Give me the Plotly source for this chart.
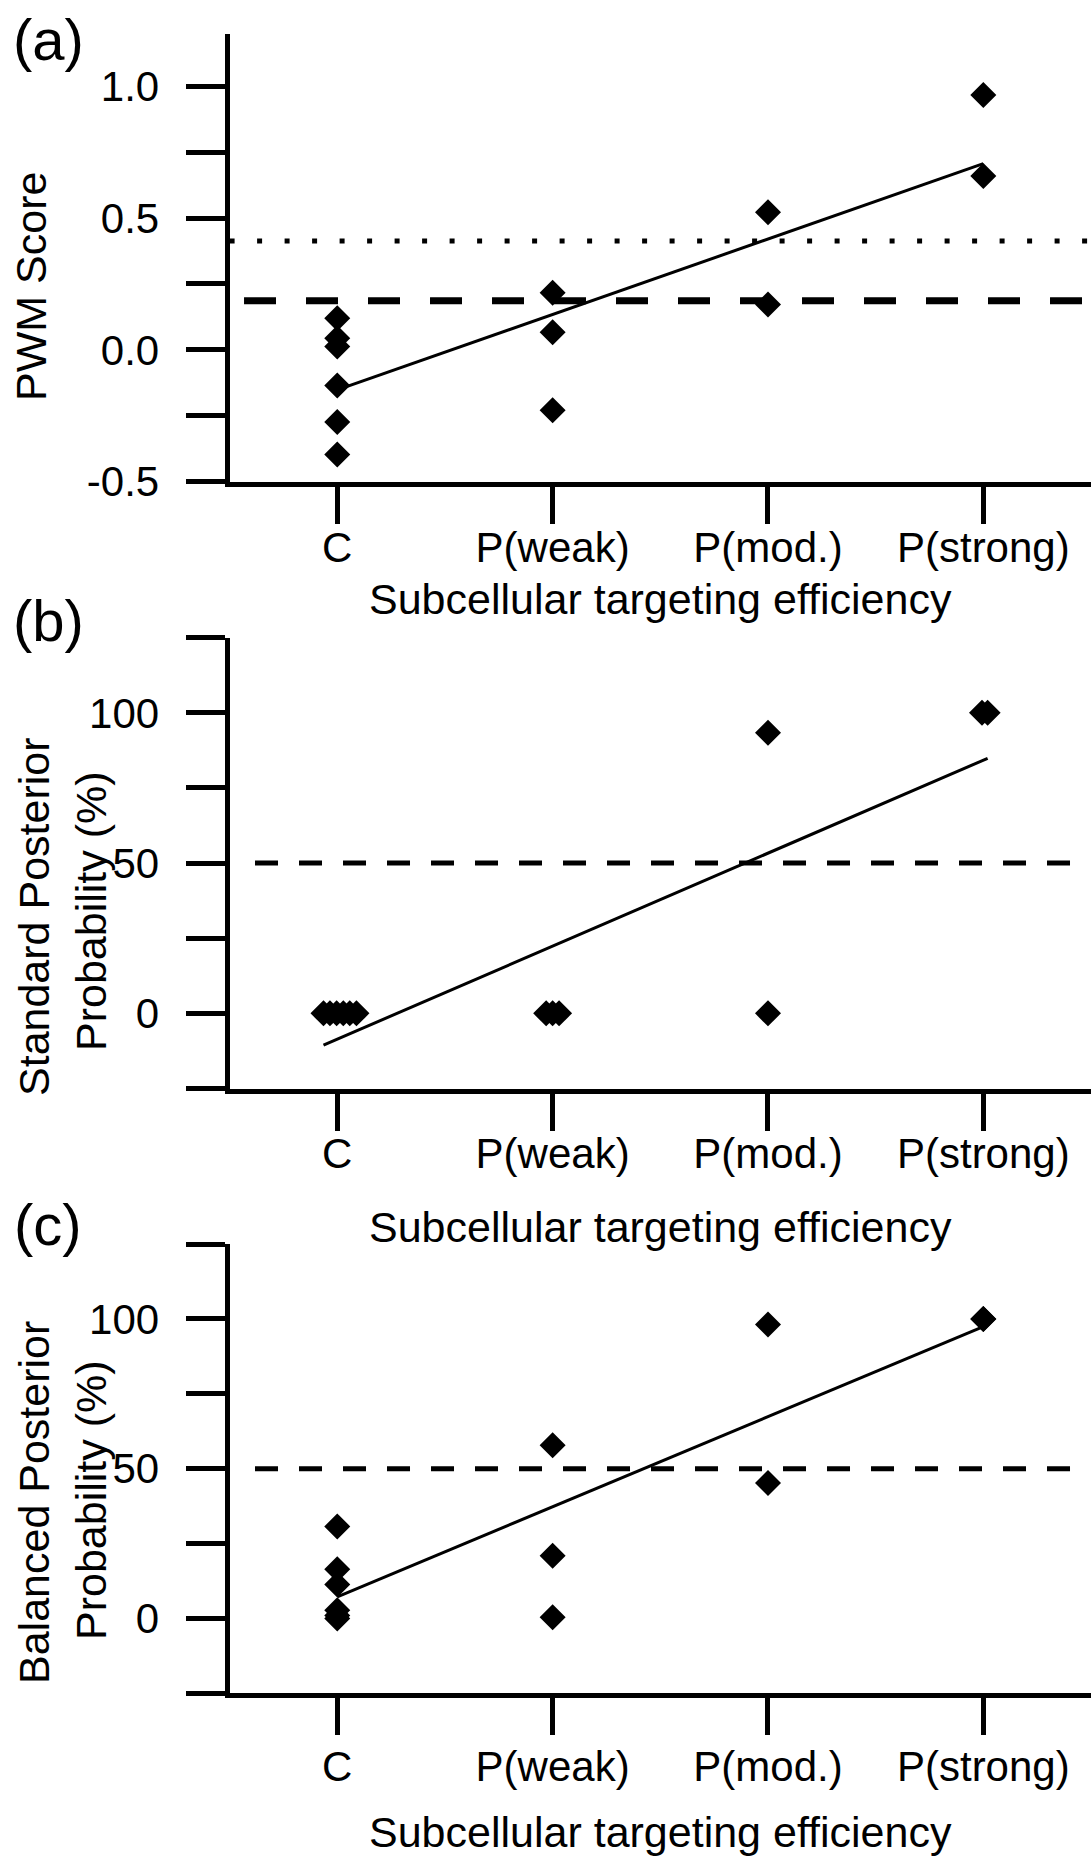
import numpy as np
import plotly.graph_objects as go

W, H = 1091, 1859

# ---------------- data ----------------
categories = ["C", "P(weak)", "P(mod.)", "P(strong)"]

pwm_C = [0.12, 0.044, 0.0125, -0.135, -0.274, -0.397]
pwm_weak = [0.217, 0.067, -0.229]
pwm_mod = [0.522, 0.172]
pwm_strong = [0.967, 0.66]
pwm_dotted_threshold = 0.413
pwm_dashed_threshold = 0.186

std_C = [0, 0, 0, 0, 0, 0]
std_weak = [0, 0, 0]
std_mod = [93.4, 0]
std_strong = [100, 100]
std_threshold = 50

bal_C = [30.7, 16.4, 11.3, 2.7, 1.0, 0.0]
bal_weak = [57.8, 20.9, 0.4]
bal_mod = [98.1, 45.2]
bal_strong = [100, 100]
bal_threshold = 50

# horizontal spread used by the original software for coinciding values (panel b)
spread_b = {
    0: [-0.064, -0.034, -0.003, 0.028, 0.058, 0.089],
    1: [-0.03, 0.0, 0.03],
    2: [0.0, 0.0],
    3: [-0.006, 0.02],
}

FONT = "Liberation Sans, Arial, sans-serif"
BLACK = "#000000"


def px_y(p):
    """pixel from top -> paper fraction"""
    return 1 - p / H


def px_x(p):
    return p / W


fig = go.Figure()

panels = [
    dict(groups=[pwm_C, pwm_weak, pwm_mod, pwm_strong], spread=None,
         top=33.6, bottom=481.6, yrange=[-0.5, 1.2],
         tickvals=[-0.5, -0.25, 0.0, 0.25, 0.5, 0.75, 1.0],
         ticktext=["-0.5", "", "0.0", "", "0.5", "", "1.0"],
         xstand=-12),
    dict(groups=[std_C, std_weak, std_mod, std_strong], spread=spread_b,
         top=637.7, bottom=1088.5, yrange=[-25, 125],
         tickvals=[-25, 0, 25, 50, 75, 100, 125],
         ticktext=["", "0", "", "50", "", "100", ""],
         xstand=-13),
    dict(groups=[bal_C, bal_weak, bal_mod, bal_strong], spread=None,
         top=1244, bottom=1693.3, yrange=[-25, 125],
         tickvals=[-25, 0, 25, 50, 75, 100, 125],
         ticktext=["", "0", "", "50", "", "100", ""],
         xstand=-5),
]

XMIN, XMAX = -0.5, 3.5
x_left_px = 229.6

for i, p in enumerate(panels):
    n = i + 1
    xa = "x" if n == 1 else f"x{n}"
    ya = "y" if n == 1 else f"y{n}"

    xs, ys = [], []
    for ci, vals in enumerate(p["groups"]):
        offs = p["spread"][ci] if p["spread"] else [0.0] * len(vals)
        for v, o in zip(vals, offs):
            xs.append(ci + o)
            ys.append(v)
    xs = np.array(xs)
    ys = np.array(ys)

    # threshold lines
    if n == 1:
        fig.add_trace(go.Scatter(x=[XMIN, XMAX], y=[pwm_dotted_threshold] * 2,
                                 mode="lines", xaxis=xa, yaxis=ya,
                                 line=dict(color=BLACK, width=5, dash="5px,22.5px"),
                                 showlegend=False, hoverinfo="skip"))
        fig.add_trace(go.Scatter(x=[XMIN + 0.067, XMAX], y=[pwm_dashed_threshold] * 2,
                                 mode="lines", xaxis=xa, yaxis=ya,
                                 line=dict(color=BLACK, width=7, dash="32px,30px"),
                                 showlegend=False, hoverinfo="skip"))
    else:
        thr = std_threshold if n == 2 else bal_threshold
        fig.add_trace(go.Scatter(x=[XMIN + 0.118, XMAX], y=[thr] * 2,
                                 mode="lines", xaxis=xa, yaxis=ya,
                                 line=dict(color=BLACK, width=5, dash="23px,21px"),
                                 showlegend=False, hoverinfo="skip"))

    # linear regression line
    slope, intercept = np.polyfit(xs, ys, 1)
    lx = np.array([xs.min(), xs.max()])
    fig.add_trace(go.Scatter(x=lx, y=slope * lx + intercept, mode="lines",
                             xaxis=xa, yaxis=ya,
                             line=dict(color=BLACK, width=3),
                             showlegend=False, hoverinfo="skip"))

    # points
    fig.add_trace(go.Scatter(x=xs, y=ys, mode="markers", xaxis=xa, yaxis=ya,
                             marker=dict(symbol="diamond", size=20, color=BLACK,
                                         line=dict(width=0)),
                             showlegend=False, hoverinfo="skip"))

    xdom = [px_x(x_left_px), 1.0]
    ydom = [px_y(p["bottom"]), px_y(p["top"])]

    fig.layout[f"xaxis{'' if n == 1 else n}"] = dict(
        domain=xdom, range=[XMIN, XMAX], anchor=ya, automargin=False,
        showline=True, linewidth=5, linecolor=BLACK,
        ticks="outside", ticklen=37, tickwidth=5, tickcolor=BLACK,
        tickvals=[0, 1, 2, 3], ticktext=categories,
        tickfont=dict(family=FONT, size=42, color=BLACK),
        ticklabelstandoff=p["xstand"],
        showgrid=False, zeroline=False, fixedrange=True,
    )
    fig.layout[f"yaxis{'' if n == 1 else n}"] = dict(
        domain=ydom, range=p["yrange"], anchor=xa, automargin=False,
        showline=True, linewidth=5, linecolor=BLACK,
        ticks="outside", ticklen=39, tickwidth=5, tickcolor=BLACK,
        tickvals=p["tickvals"], ticktext=p["ticktext"],
        tickfont=dict(family=FONT, size=42, color=BLACK),
        ticklabelstandoff=18,
        showgrid=False, zeroline=False, fixedrange=True,
    )

annotations = []
# panel labels
for lab, cy in [("(a)", 40), ("(b)", 620), ("(c)", 1224)]:
    annotations.append(dict(text=lab, x=px_x(48), y=px_y(cy), xref="paper", yref="paper",
                            xanchor="center", yanchor="middle", showarrow=False,
                            font=dict(family=FONT, size=58, color=BLACK)))
# x titles
for cy in [599, 1227, 1832]:
    annotations.append(dict(text="Subcellular targeting efficiency", x=px_x(660), y=px_y(cy),
                            xref="paper", yref="paper", xanchor="center", yanchor="middle",
                            showarrow=False, font=dict(family=FONT, size=43, color=BLACK)))
# y titles (each line placed separately)
for txt, cx, cy in [("PWM Score", 31, 287),
                    ("Standard Posterior", 34, 917),
                    ("Probability (%)", 91, 911),
                    ("Balanced Posterior", 34, 1503),
                    ("Probability (%)", 91, 1500)]:
    annotations.append(dict(text=txt, x=px_x(cx), y=px_y(cy), xref="paper", yref="paper",
                            xanchor="center", yanchor="middle", textangle=-90,
                            showarrow=False, font=dict(family=FONT, size=43, color=BLACK)))

fig.update_layout(
    width=W, height=H, margin=dict(l=0, r=0, t=0, b=0, pad=0, autoexpand=False),
    autosize=False,
    paper_bgcolor="white", plot_bgcolor="white",
    annotations=annotations, showlegend=False,
    font=dict(family=FONT, color=BLACK),
)

fig.write_html(
    "out.html",
    config={"displayModeBar": False, "responsive": False},
    post_script="document.body.style.margin='0px';document.body.style.padding='0px';"
                "document.body.style.overflow='hidden';",
)
